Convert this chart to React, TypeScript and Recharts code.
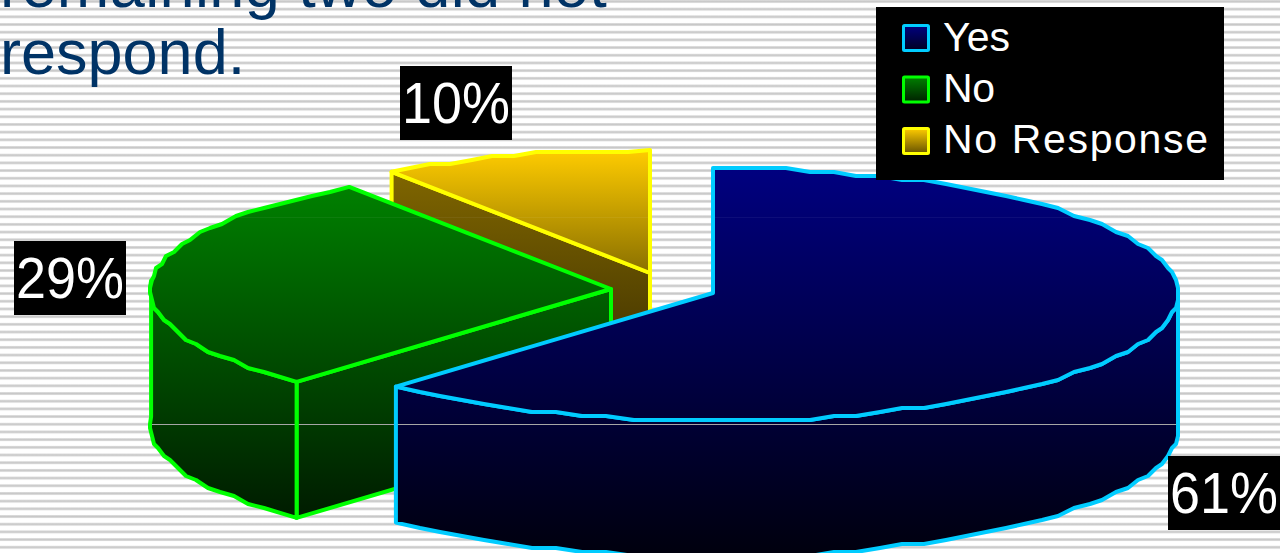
import { Legend, Pie, PieChart } from "recharts";

// Survey split; slices run counter-clockwise from 12 o'clock so the front slice paints last
const categories = ["No Response", "No", "Yes"];
const shares = [10, 29, 61];
const pieData = categories.map((name, i) => ({ name, value: shares[i] }));
const legendOrder = ["Yes", "No", "No Response"];
const headingLines = ["remaining two did not", "respond."];

const WIDTH = 1280;
const HEIGHT = 553;
const DEPTH = 136;

type Slice = {
  cx: number;
  cy: number;
  rx: number;
  ryBack: number;
  ryFront: number;
  top: string;
  side: string;
  stroke: string;
  label: [number, number];
};

const sliceStyles: Record<string, Slice> = {
  Yes: { cx: 713, cy: 293, rx: 465, ryBack: 125, ryFront: 128, top: "url(#yesFill)", side: "url(#yesFill)", stroke: "#00ccff", label: [1168, 456] },
  No: { cx: 611, cy: 289, rx: 461, ryBack: 124, ryFront: 127, top: "url(#noFill)", side: "url(#noFill)", stroke: "#00ff00", label: [14, 241] },
  "No Response": { cx: 650, cy: 273, rx: 455, ryBack: 123, ryFront: 123, top: "url(#otherFill)", side: "url(#otherSide)", stroke: "#ffff00", label: [400, 66] },
};

const swatches: Record<string, string> = {
  Yes: "url(#yesSwatch)",
  No: "url(#noSwatch)",
  "No Response": "url(#otherSwatch)",
};

const rad = (deg: number) => (deg * Math.PI) / 180;

// Foreshortening of the tilted disc: the left half reads a little further round
function projected(t: number) {
  if (t <= 180 || t >= 360) return t;
  const u = rad(t - 180);
  return t + 3.89 * Math.sin(u) + 0.94 * Math.sin(2 * u);
}

function rimPoint(s: Slice, t: number, snap = false): [number, number] {
  const a = rad(projected(t));
  const dy = -Math.cos(a);
  const x = s.cx + Math.sin(a) * s.rx;
  const y = s.cy + dy * (dy > 0 ? s.ryFront : s.ryBack);
  return snap ? [Math.round(x / 2) * 2, Math.round(y / 4) * 4] : [x, y];
}

// Coarse rim outline, the faceted look of an old office chart
function rim(s: Slice, from: number, to: number) {
  const pts: [number, number][] = [rimPoint(s, from)];
  for (let t = Math.ceil(from / 3) * 3 + 3; t < to - 1; t += 3) pts.push(rimPoint(s, t, true));
  pts.push(rimPoint(s, to));
  return pts;
}

const toPath = (pts: [number, number][]) =>
  "M" + pts.map(([x, y]) => `${x.toFixed(1)} ${y.toFixed(1)}`).join("L") + "Z";

function Slice3D(props: any) {
  const s = sliceStyles[props.name];
  let t0 = 90 - props.endAngle;
  let t1 = 90 - props.startAngle;
  while (t0 < 0) {
    t0 += 360;
    t1 += 360;
  }
  const common = { stroke: s.stroke, strokeWidth: 4, strokeLinejoin: "round" as const };
  const apex: [number, number] = [s.cx, s.cy];
  const faces: React.ReactNode[] = [];

  // Cut face along the starting edge shows only when it turns toward the viewer
  if (Math.sin(rad(t0)) < -0.01) {
    const edge = rimPoint(s, t0);
    faces.push(
      <path
        key="cut"
        d={toPath([apex, edge, [edge[0], edge[1] + DEPTH], [apex[0], apex[1] + DEPTH]])}
        fill={s.side}
        {...common}
      />,
    );
  }

  // Outer wall, front half of the rim only
  const wallFrom = Math.max(t0, 90);
  const wallTo = Math.min(t1, 270);
  if (wallTo > wallFrom) {
    const arc = rim(s, wallFrom, wallTo);
    const lower = [...arc].reverse().map(([x, y]) => [x, y + DEPTH] as [number, number]);
    faces.push(<path key="wall" d={toPath([...arc, ...lower])} fill={s.side} {...common} />);
  }

  faces.push(<path key="top" d={toPath([apex, ...rim(s, t0, t1)])} fill={s.top} {...common} />);
  return <g>{faces}</g>;
}

function PercentLabel(props: any) {
  const [x, y] = sliceStyles[props.name].label;
  return (
    <g>
      <rect x={x} y={y} width={112} height={74} fill="#000000" />
      <text
        x={x + 2}
        y={y + 57}
        fill="#ffffff"
        fontFamily="Liberation Sans"
        fontSize={57}
        textLength={108}
        lengthAdjust="spacingAndGlyphs"
      >
        {props.value}%
      </text>
    </g>
  );
}

function LegendBox({ payload }: any) {
  const names = (payload ?? []).map((row: any) => row.value);
  const rows = legendOrder.filter((name) => names.includes(name));
  const textWidths = [67, 52, 265];
  return (
    <svg width={348} height={173} style={{ display: "block" }}>
      <rect width={348} height={173} fill="#000000" />
      {rows.map((name, i) => (
        <g key={name}>
          <rect
            x={27.5}
            y={18.5 + i * 51.5}
            width={25}
            height={25}
            rx={1}
            fill={swatches[name]}
            stroke={sliceStyles[name].stroke}
            strokeWidth={3}
          />
          <text
            x={67}
            y={44 + i * 51}
            fill="#ffffff"
            fontFamily="Liberation Sans"
            fontSize={41}
            textLength={textWidths[i]}
            lengthAdjust="spacing"
          >
            {name}
          </text>
        </g>
      ))}
    </svg>
  );
}

function mix(a: number[], b: number[], f: number) {
  return `rgb(${a.map((v, i) => Math.round(v + (b[i] - v) * f)).join(",")})`;
}

// Vertical fill with the two thin light seams that run across the pie
function SeamGradient({ id, y1, y2, from, to }: { id: string; y1: number; y2: number; from: number[]; to: number[] }) {
  const f = (y: number) => (y - y1) / (y2 - y1);
  const local = (y: number) => from.map((v, i) => v + (to[i] - v) * f(y));
  const seams: [number, string][] = [
    [217, mix(local(217), [255, 255, 255], 0.05)],
    [424, "#a6a6a6"],
  ];
  return (
    <linearGradient id={id} gradientUnits="userSpaceOnUse" x1={0} x2={0} y1={y1} y2={y2}>
      <stop offset={0} stopColor={mix(from, to, 0)} />
      {seams
        .filter(([y]) => y > y1 && y < y2)
        .flatMap(([y, c]) => [
          <stop key={y + "a"} offset={f(y)} stopColor={mix(from, to, f(y))} />,
          <stop key={y + "b"} offset={f(y)} stopColor={c} />,
          <stop key={y + "c"} offset={f(y + 1)} stopColor={c} />,
          <stop key={y + "d"} offset={f(y + 1)} stopColor={mix(from, to, f(y + 1))} />,
        ])}
      <stop offset={1} stopColor={mix(from, to, 1)} />
    </linearGradient>
  );
}

function SwatchGradient({ id, from, to }: { id: string; from: string; to: string }) {
  return (
    <linearGradient id={id} x1={0} x2={0} y1={0} y2={1}>
      <stop offset={0} stopColor={from} />
      <stop offset={1} stopColor={to} />
    </linearGradient>
  );
}

export default function App() {
  return (
    <div
      style={{
        position: "absolute",
        left: 0,
        top: 0,
        width: WIDTH,
        height: HEIGHT,
        overflow: "hidden",
        backgroundColor: "#ffffff",
        backgroundImage:
          "linear-gradient(to bottom, #dedede 0, #c6c6c6 1.6px, #dedede 2.8px, #ffffff 3.4px, #ffffff 7.2px, #dedede 7.7px)",
        backgroundSize: "100% 7.7px",
      }}
    >
      {headingLines.map((line, i) => (
        <div
          key={line}
          style={{
            position: "absolute",
            left: 0,
            top: -51 + i * 67,
            whiteSpace: "nowrap",
            fontFamily: "Liberation Sans",
            fontSize: 63,
            letterSpacing: i === 0 ? 0.4 : 0,
            lineHeight: "72px",
            color: "#003366",
          }}
        >
          {line}
        </div>
      ))}
      <PieChart width={WIDTH} height={HEIGHT} margin={{ top: 0, right: 0, bottom: 0, left: 0 }} style={{ position: "absolute", left: 0, top: 0 }}>
        <defs>
          <SeamGradient id="yesFill" y1={168} y2={553} from={[0, 0, 128]} to={[0, 0, 14]} />
          <SeamGradient id="noFill" y1={186} y2={516} from={[0, 128, 0]} to={[0, 28, 0]} />
          <SeamGradient id="otherFill" y1={150} y2={273} from={[255, 204, 0]} to={[138, 112, 0]} />
          <SeamGradient id="otherSide" y1={172} y2={320} from={[128, 102, 0]} to={[80, 63, 0]} />
          <SwatchGradient id="yesSwatch" from="#000080" to="#000020" />
          <SwatchGradient id="noSwatch" from="#008000" to="#002000" />
          <SwatchGradient id="otherSwatch" from="#ffcc00" to="#665200" />
        </defs>
        <Pie
          data={pieData}
          dataKey="value"
          nameKey="name"
          cx={680}
          cy={285}
          outerRadius={460}
          startAngle={90}
          endAngle={450}
          stroke="none"
          labelLine={false}
          label={PercentLabel}
          shape={Slice3D}
          inactiveShape={Slice3D}
          isAnimationActive={false}
        />
        <Legend content={LegendBox} wrapperStyle={{ left: 876, top: 7, width: 348, height: 173, bottom: "auto" }} />
      </PieChart>
    </div>
  );
}
